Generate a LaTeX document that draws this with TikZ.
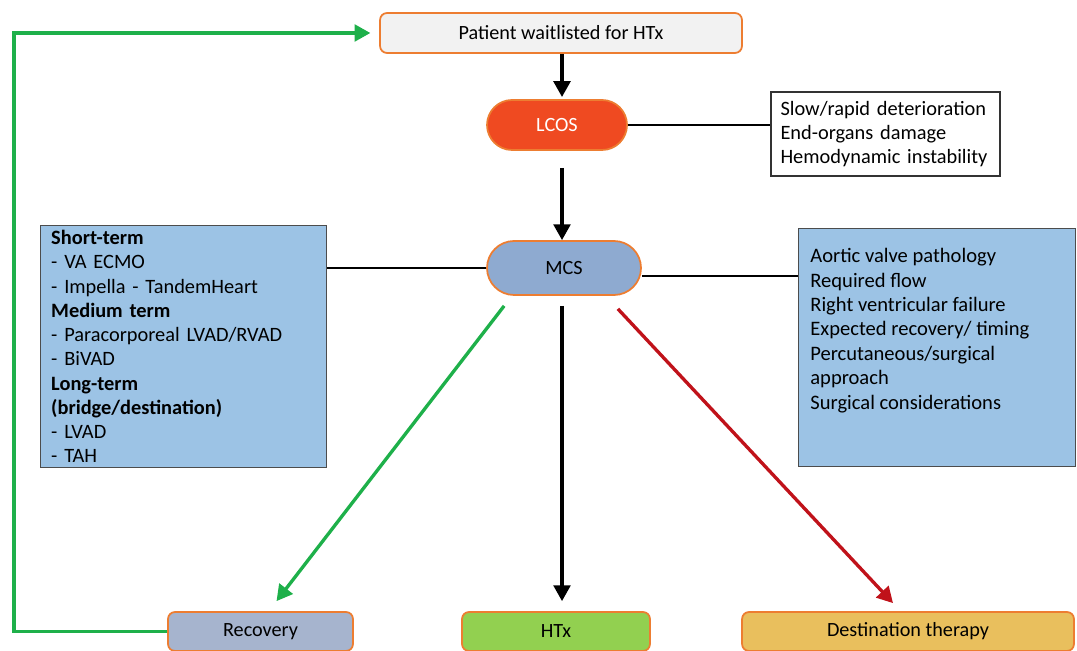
\documentclass[tikz,border=0pt]{standalone}
\usepackage{fontspec}
\setmainfont{Carlito}
\usepackage{tikz}
\usetikzlibrary{arrows.meta, calc, positioning}
\definecolor{boxorange}{HTML}{ED7D31}
\definecolor{topgray}{HTML}{F2F2F2}
\definecolor{lcosred}{HTML}{EF4A21}
\definecolor{mcsblue}{HTML}{8EAAD0}
\definecolor{infoblue}{HTML}{9CC3E5}
\definecolor{recgray}{HTML}{A6B4CE}
\definecolor{htxgreen}{HTML}{92D050}
\definecolor{destyellow}{HTML}{E9BF5D}
\definecolor{pathgreen}{HTML}{1EB04A}
\definecolor{pathred}{HTML}{C0121A}

\tikzset{
	outcome/.style={draw=boxorange, line width=1pt, rounded corners=4pt, minimum height=0.78cm, font=\fontsize{11.5}{13}\selectfont},
	pill/.style={draw=boxorange, line width=1pt, rounded corners=0.5cm, minimum width=2.8cm, minimum height=1cm, font=\fontsize{11.5}{13}\selectfont},
	infobox/.style={draw=black!70, line width=0.8pt, fill=infoblue, anchor=north west},
	flow/.style={line width=1.9pt, -{Triangle[length=9pt, width=9.5pt]}},
}

\begin{document}
\begin{tikzpicture}[x=0.02cm, y=-0.02cm]
			\useasboundingbox (0,0) rectangle (1077,651);
			
			\node [outcome, fill=topgray, minimum width=7.24cm, minimum height=0.8cm] (top) at (561,33) {Patient waitlisted for HTx};
			\node [pill, fill=lcosred, text=white] (lcos) at (557,125) {LCOS};
			\node [draw=black!80, line width=0.8pt, minimum width=4.58cm, minimum height=1.68cm, align=left, text width=4.2cm, font=\fontsize{11.6}{13.6}\selectfont] (effects) at (885.5,134) {Slow/rapid deterioration\\End-organs damage\\Hemodynamic instability};
			\node [pill, fill=mcsblue, minimum width=3.08cm, minimum height=1.08cm, rounded corners=0.54cm] (mcs) at (564,268) {MCS};
			
			% devices and selection criteria
			\node [infobox, text width=5.3cm, minimum height=4.84cm, inner xsep=6pt, inner ysep=2pt, align=left, font=\fontsize{11.6}{13.8}\selectfont] (devices) at (40,225) {\textbf{Short-term}\\- VA ECMO\\- Impella - TandemHeart\\\textbf{Medium term}\\- Paracorporeal LVAD/RVAD\\- BiVAD\\\textbf{Long-term}\\\textbf{(bridge/destination)}\\- LVAD\\- TAH};
			\node [infobox, minimum width=5.54cm, minimum height=4.76cm] (crit) at (798,228) {};
			\node [anchor=north west, align=left, inner sep=0pt, font=\fontsize{11.7}{13.9}\selectfont] (crittext) at ($(crit.north west)+(12,20)$) {Aortic valve pathology\\Required flow\\Right ventricular failure\\Expected recovery/ timing\\Percutaneous/surgical\\approach\\Surgical considerations};
			
			\node [outcome, fill=recgray, minimum width=3.7cm] (recovery) at (260.5,631.5) {Recovery};
			\node [outcome, fill=htxgreen, minimum width=3.76cm] (htx) at (556,631.5) {HTx};
			\node [outcome, fill=destyellow, minimum width=6.64cm] (dest) at (908,631.5) {Destination therapy};
			
			\draw [flow] (top.south -| 562,0) -- (562,97);
			\draw [flow] (562,168) -- (mcs.north -| 562,0);
			\draw [line width=0.6pt] (lcos.east) -- (lcos.east -| effects.west);
			\draw [line width=0.6pt] (mcs.west) -- (mcs.west -| devices.east);
			\draw [line width=0.6pt] ($(mcs.east)+(0,8)$) -- ($(mcs.east -| crit.west)+(0,8)$);
			
			\draw [flow, pathgreen] ($(mcs.south west)+(18,10)$) -- ($(recovery.north)+(16,-10)$);
			\draw [flow] ($(mcs.south)+(-2,10)$) -- ($(htx.north)+(6,-10)$);
			\draw [flow, pathred] ($(mcs.south east)+(-24,13)$) -- ($(dest.north)+(-15,-8)$);
			
			\draw [flow, pathgreen] (recovery.west) -- (14,631.5) -- (14,33) -- ([xshift=-5pt]top.west);
		\end{tikzpicture}
\end{document}
